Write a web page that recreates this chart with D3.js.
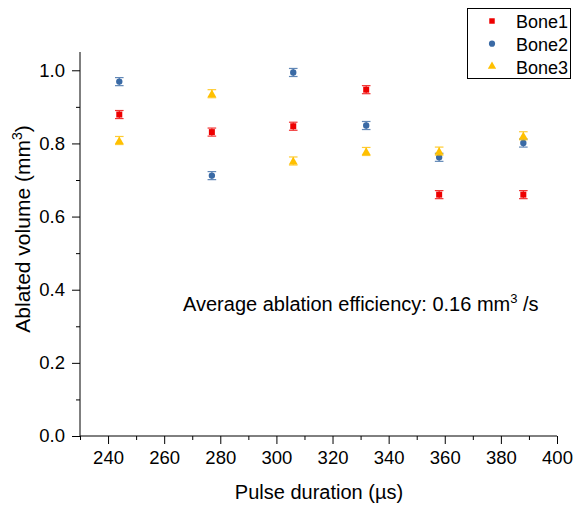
<!DOCTYPE html>
<html><head><meta charset="utf-8">
<script src="https://cdn.jsdelivr.net/npm/d3@7"></script>
<style>body{margin:0;background:#fff}svg{display:block}text{font-family:"Liberation Sans",Arial,sans-serif;fill:#000}</style>
</head><body><svg id="c" width="575" height="506"></svg>
<script>
const pulse = [244, 277, 306, 332, 358, 388];
const bone1 = [0.879, 0.831, 0.847, 0.947, 0.660, 0.660];
const bone2 = [0.969, 0.712, 0.994, 0.849, 0.762, 0.801];
const bone3 = [0.808, 0.936, 0.752, 0.778, 0.779, 0.821];
const errs = [0.011, 0.011, 0.011, 0.011, 0.011, 0.011];
const seriesNames = ["Bone1", "Bone2", "Bone3"];
const colors = ["#ee0000", "#3a6aa5", "#ffc000"];
const xTicks = [240, 260, 280, 300, 320, 340, 360, 380, 400];
const yTicks = [0.0, 0.2, 0.4, 0.6, 0.8, 1.0];

const svg = d3.select("#c");
const x = d3.scaleLinear().domain([230, 400]).range([80, 557]);
const y = d3.scaleLinear().domain([0, 1.05]).range([436, 52]);

// axes
const xAxis = svg.append("g").attr("transform", "translate(0,436)")
  .call(d3.axisBottom(x).tickValues(xTicks).tickSize(8).tickPadding(7).tickFormat(d3.format("d")));
svg.append("g").attr("transform", "translate(0,436)")
  .call(d3.axisBottom(x).tickValues(d3.range(230, 401, 10).filter(v => !xTicks.includes(v))).tickSize(4).tickFormat(""))
  .select(".domain").remove();
const yAxis = svg.append("g").attr("transform", "translate(80,0)")
  .call(d3.axisLeft(y).tickValues(yTicks).tickSize(8).tickPadding(7).tickFormat(d3.format(".1f")));
svg.append("g").attr("transform", "translate(80,0)")
  .call(d3.axisLeft(y).tickValues([0.1, 0.3, 0.5, 0.7, 0.9]).tickSize(4).tickFormat(""))
  .select(".domain").remove();
xAxis.select(".domain").attr("d", "M80,0H557");
yAxis.select(".domain").attr("d", "M0,436V52");
svg.selectAll(".tick text").style("font-size", "18.5px").attr("font-family", "Liberation Sans, Arial, sans-serif");
svg.selectAll(".domain, .tick line").attr("stroke", "#000").attr("stroke-width", 1);

// axis titles
svg.append("text").attr("x", 319).attr("y", 499).attr("text-anchor", "middle").style("font-size", "20px")
  .text("Pulse duration (\u00b5s)");
const yt = svg.append("text").attr("transform", "translate(30,229) rotate(-90)").attr("text-anchor", "middle").style("font-size", "21px");
yt.append("tspan").text("Ablated volume (mm");
yt.append("tspan").attr("dy", -8).style("font-size", "14px").text("3");
yt.append("tspan").attr("dy", 8).text(")");

// annotation
const an = svg.append("text").attr("x", 183).attr("y", 311).style("font-size", "20px");
an.append("tspan").text("Average ablation efficiency: 0.16 mm");
an.append("tspan").attr("dy", -8).style("font-size", "13px").text("3");
an.append("tspan").attr("dy", 8).text(" /s");

// data
const data = [bone1, bone2, bone3];
const sym = [d3.symbolSquare, d3.symbolCircle, d3.symbolTriangle];
const symSize = [36, 32, 34];
data.forEach((vals, si) => {
  const g = svg.append("g");
  vals.forEach((v, i) => {
    const cx = x(pulse[i]);
    const e = errs[i];
    const eg = g.append("g").attr("stroke", colors[si]).attr("stroke-width", 1.2).attr("opacity", 0.8);
    eg.append("line").attr("x1", cx).attr("x2", cx).attr("y1", y(v - e)).attr("y2", y(v + e));
    eg.append("line").attr("x1", cx - 4.3).attr("x2", cx + 4.3).attr("y1", y(v - e)).attr("y2", y(v - e));
    eg.append("line").attr("x1", cx - 4.3).attr("x2", cx + 4.3).attr("y1", y(v + e)).attr("y2", y(v + e));
    g.append("path").attr("d", d3.symbol().type(sym[si]).size(symSize[si])())
      .attr("transform", `translate(${cx},${y(v) + (si === 2 ? 1 : 0)})`).attr("fill", colors[si]);
  });
});

// legend
const lg = svg.append("g");
lg.append("rect").attr("x", 467.5).attr("y", 8.5).attr("width", 103).attr("height", 70)
  .attr("fill", "#fff").attr("stroke", "#000").attr("stroke-width", 1);
seriesNames.forEach((n, i) => {
  const ly = 21 + i * 22.7;
  lg.append("path").attr("d", d3.symbol().type(sym[i]).size(30)())
    .attr("transform", `translate(492,${ly})`).attr("fill", colors[i]);
  lg.append("text").attr("x", 516).attr("y", ly + 7.3).style("font-size", "18px").text(n);
});
</script></body></html>
